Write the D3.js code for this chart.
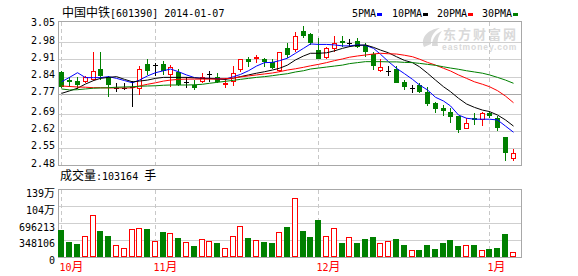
<!DOCTYPE html>
<html><head><meta charset="utf-8">
<script src="https://cdn.jsdelivr.net/npm/d3@7/dist/d3.min.js"></script>
<style>body{margin:0;background:#fff}svg{display:block}</style>
</head><body><svg id="c" width="578" height="276"></svg>
<script>
// ---------------- DATA ----------------
const stockName = "中国中铁";
const stockCode = "601390";
const titleDate = "2014-01-07";

const dates = [
 "2013-10-16","2013-10-17","2013-10-18","2013-10-21","2013-10-22","2013-10-23","2013-10-24","2013-10-25","2013-10-28","2013-10-29","2013-10-30","2013-10-31",
 "2013-11-01","2013-11-04","2013-11-05","2013-11-06","2013-11-07","2013-11-08","2013-11-11","2013-11-12","2013-11-13","2013-11-14","2013-11-15","2013-11-18","2013-11-19","2013-11-20","2013-11-21","2013-11-22","2013-11-25","2013-11-26","2013-11-27","2013-11-28","2013-11-29",
 "2013-12-02","2013-12-03","2013-12-04","2013-12-05","2013-12-06","2013-12-09","2013-12-10","2013-12-11","2013-12-12","2013-12-13","2013-12-16","2013-12-17","2013-12-18","2013-12-19","2013-12-20","2013-12-23","2013-12-24","2013-12-25","2013-12-26","2013-12-27","2013-12-30","2013-12-31",
 "2014-01-02","2014-01-03","2014-01-06","2014-01-07"];

const open  = [2.860,2.827,2.824,2.819,2.827,2.873,2.839,2.797,2.797,2.798,2.790,2.893,2.888,2.893,2.848,2.862,2.820,2.808,2.819,2.853,2.842,2.812,2.821,2.869,2.912,2.914,2.912,2.903,2.866,2.957,2.949,3.028,3.014,2.950,2.917,2.953,2.988,2.980,2.987,2.971,2.933,2.866,2.866,2.872,2.819,2.795,2.808,2.781,2.734,2.713,2.700,2.682,2.628,2.673,2.666,2.693,2.675,2.598,2.506];
const close = [2.800,2.819,2.808,2.842,2.864,2.846,2.810,2.797,2.797,2.798,2.872,2.866,2.888,2.866,2.882,2.808,2.820,2.797,2.842,2.853,2.819,2.817,2.856,2.912,2.903,2.920,2.903,2.876,2.941,2.930,3.007,3.009,2.980,2.914,2.957,2.978,2.980,2.980,2.961,2.943,2.885,2.882,2.866,2.815,2.799,2.795,2.781,2.731,2.710,2.704,2.679,2.625,2.652,2.666,2.693,2.682,2.632,2.533,2.530];
const high  = [2.866,2.839,2.839,2.845,2.944,2.944,2.845,2.815,2.817,2.824,2.885,2.913,2.896,2.906,2.888,2.872,2.839,2.828,2.856,2.865,2.856,2.835,2.885,2.914,2.923,2.930,2.917,2.914,2.941,2.980,3.025,3.048,3.018,2.998,2.964,3.007,3.007,2.995,2.998,2.978,2.943,2.912,2.885,2.885,2.828,2.808,2.815,2.801,2.740,2.727,2.713,2.682,2.673,2.693,2.700,2.702,2.682,2.598,2.548];
const low   = [2.795,2.798,2.790,2.817,2.825,2.830,2.760,2.780,2.788,2.720,2.768,2.847,2.845,2.849,2.800,2.805,2.797,2.788,2.815,2.821,2.815,2.797,2.805,2.862,2.882,2.896,2.882,2.872,2.860,2.917,2.943,2.998,2.970,2.912,2.912,2.941,2.961,2.964,2.957,2.923,2.869,2.860,2.846,2.815,2.788,2.777,2.777,2.723,2.693,2.682,2.652,2.614,2.628,2.645,2.641,2.673,2.622,2.500,2.500];
const volume = [561000,318000,277000,436000,873000,540000,436000,249000,187000,575000,596000,582000,332000,520000,492000,395000,312000,229000,367000,326000,291000,181000,430000,638000,388000,360000,312000,291000,513000,623000,1220000,540000,416000,769000,430000,596000,291000,409000,291000,367000,416000,291000,332000,374000,249000,145000,145000,249000,166000,291000,353000,229000,249000,249000,145000,166000,187000,478000,103164];

const ma5  = [2.821,2.839,2.858,2.838,2.838,2.838,2.842,2.835,2.826,2.817,2.828,2.845,2.858,2.866,2.873,2.862,2.849,2.838,2.835,2.835,2.834,2.832,2.842,2.851,2.866,2.885,2.899,2.900,2.907,2.917,2.937,2.957,2.975,2.973,2.973,2.971,2.967,2.967,2.971,2.969,2.957,2.933,2.903,2.876,2.854,2.831,2.808,2.788,2.758,2.743,2.723,2.686,2.673,2.669,2.669,2.669,2.666,2.641,2.616];
const ma10 = [2.774,2.784,2.795,2.812,2.826,2.835,2.839,2.842,2.831,2.821,2.824,2.828,2.835,2.839,2.839,2.839,2.839,2.837,2.835,2.835,2.832,2.831,2.836,2.842,2.849,2.856,2.862,2.869,2.876,2.889,2.910,2.926,2.937,2.937,2.939,2.947,2.957,2.964,2.969,2.971,2.961,2.950,2.939,2.923,2.908,2.899,2.882,2.856,2.828,2.801,2.781,2.754,2.731,2.717,2.706,2.700,2.686,2.666,2.641];
const ma20 = [2.804,2.802,2.800,2.799,2.797,2.797,2.796,2.796,2.796,2.796,2.804,2.811,2.817,2.824,2.828,2.831,2.832,2.832,2.832,2.832,2.832,2.834,2.836,2.841,2.845,2.849,2.853,2.857,2.862,2.869,2.874,2.880,2.886,2.892,2.899,2.907,2.914,2.921,2.926,2.930,2.934,2.937,2.935,2.934,2.929,2.923,2.913,2.900,2.889,2.876,2.865,2.849,2.835,2.821,2.811,2.801,2.785,2.763,2.736];
const ma30 = [2.792,2.788,2.789,2.792,2.795,2.796,2.797,2.799,2.800,2.801,2.803,2.804,2.805,2.807,2.808,2.808,2.808,2.809,2.811,2.815,2.819,2.823,2.827,2.831,2.835,2.839,2.842,2.846,2.850,2.854,2.861,2.866,2.873,2.877,2.881,2.885,2.889,2.895,2.899,2.903,2.903,2.903,2.902,2.902,2.900,2.899,2.896,2.892,2.888,2.882,2.877,2.872,2.866,2.861,2.856,2.849,2.839,2.828,2.815];

const maNames = ["5PMA","10PMA","20PMA","30PMA"];
const priceTicks = [3.05,2.98,2.91,2.84,2.77,2.69,2.62,2.55,2.48];
const priceTickLabels = ["3.05","2.98","2.91","2.84","2.77","2.69","2.62","2.55","2.48"];
const volTicks = [1392426,1044319,696213,348106,0];
const volTickLabels = ["139万","104万","696213","348106","0"];
const monthLabels = ["10月","11月","12月","1月"];
const volumeTitle = "成交量";
const volumeUnit = "手";

// ---------------- DRAW ----------------
const RED="#ff0000", GREEN="#008000", BLUE="#0000ff", BLACK="#000000";
const maColors=[BLUE,BLACK,RED,GREEN];
const MONO="'DejaVu Sans Mono', monospace";
const CJK="'Noto Sans CJK SC', sans-serif";
const svg=d3.select("#c");
svg.append("rect").attr("width",578).attr("height",276).attr("fill","#fff");

const x=d3.scaleBand().domain(dates).range([57.6,516.6]);
const cxf=d=>Math.round(x(d)+x.bandwidth()/2);
const y=d3.scaleLinear().domain([2.48,2.98]).range([165.7,42.7]);
const yv=d3.scaleLinear().domain([0,volTicks[0]]).range([257,190]);

function mixedText(g,str,px,py,anchor,color,cjkSize){
  const t=g.append("text").attr("x",px).attr("y",py).attr("text-anchor",anchor||"start").attr("fill",color||"#000");
  const runs=str.match(/[\u3000-\u9fff\uff00-\uffef]+|[^\u3000-\u9fff\uff00-\uffef]+/g)||[];
  runs.forEach(r=>{
    const cjk=/[\u3000-\u9fff\uff00-\uffef]/.test(r);
    t.append("tspan").attr("font-family",cjk?CJK:MONO).attr("font-size",cjk?(cjkSize||12):10)
      .attr("xml:space","preserve").text(r);
  });
  return t;
}

// watermark
const wm=svg.append("g").attr("fill","#d9d9d9");
wm.append("path").attr("d","M424,47 C420,38 428,29 440,28 C433,32 430,38 431,44 Z M432,46 C432,39 436,33 442,31 C438,36 437,41 438,46 Z");
wm.append("text").attr("x",443).attr("y",39).attr("font-family",CJK).attr("font-weight","bold").attr("font-size",13).attr("letter-spacing","2").text("东方财富网");
wm.append("text").attr("x",442).attr("y",50).attr("font-family","'Liberation Sans', sans-serif").attr("font-weight","bold").attr("font-size",8.5).attr("letter-spacing","0.9").text("eastmoney.com");

// grid: price
const grid=svg.append("g").attr("shape-rendering","crispEdges");
priceTicks.forEach((v,i)=>{
  if(i===0||i===priceTicks.length-1) return;
  const yy=Math.floor(y(v))+0.5;
  grid.append("line").attr("x1",58.5).attr("x2",521.5).attr("y1",yy).attr("y2",yy)
    .attr("stroke", i===Math.floor(priceTicks.length/2)?"#a8a8a8":"#cfcfcf");
});
// grid: volume
volTicks.forEach((v,i)=>{
  if(i===0||i===volTicks.length-1) return;
  const yy=Math.floor(yv(v))+0.5;
  grid.append("line").attr("x1",58.5).attr("x2",521.5).attr("y1",yy).attr("y2",yy).attr("stroke","#cfcfcf");
});
// month dashed lines + labels
const monthStarts=dates.map((d,i)=>i).filter(i=>i===0||dates[i].slice(5,7)!==dates[i-1].slice(5,7));
monthStarts.forEach((idx,k)=>{
  const xx=cxf(dates[idx])+0.5;
  grid.append("line").attr("x1",xx).attr("x2",xx).attr("y1",22).attr("y2",165).attr("stroke","#c8c8c8").attr("stroke-dasharray","4,3");
  grid.append("line").attr("x1",xx).attr("x2",xx).attr("y1",190).attr("y2",257).attr("stroke","#c8c8c8").attr("stroke-dasharray","4,3");
  mixedText(svg,monthLabels[k],xx-2,271,"start",RED,12);
});

// borders
const bd=svg.append("g").attr("fill","none").attr("stroke","#a8a8a8").attr("shape-rendering","crispEdges");
bd.append("rect").attr("x",58.5).attr("y",21.5).attr("width",463).attr("height",144);
bd.append("rect").attr("x",58.5).attr("y",189.5).attr("width",463).attr("height",68);

// axis labels
priceTicks.forEach((v,i)=>{
  svg.append("text").attr("x",55).attr("y",y(v)+0.8).attr("text-anchor","end")
    .attr("font-family",MONO).attr("font-size",10).attr("fill","#000").text(priceTickLabels[i]);
});
volTicks.forEach((v,i)=>{
  mixedText(svg,volTickLabels[i],55,yv(v)+7,"end","#000",11);
});

// title & legend
mixedText(svg,`${stockName}[${stockCode}] ${titleDate}`,62,17,"start","#000",12);
const legX=[352,392,437,482];
maNames.forEach((n,i)=>{
  svg.append("text").attr("x",legX[i]).attr("y",17).attr("font-family",MONO).attr("font-size",10).text(n);
  svg.append("rect").attr("x",legX[i]+n.length*6+1).attr("y",13).attr("width",5).attr("height",3).attr("fill",maColors[i]);
});

// volume title
mixedText(svg,`${volumeTitle}:${volume[volume.length-1]} ${volumeUnit}`,60,180,"start","#000",12);

// candles
const cg=svg.append("g").attr("shape-rendering","crispEdges");
dates.forEach((d,i)=>{
  const c=cxf(d), o=open[i], cl=close[i];
  const yh=Math.round(y(high[i])), yl=Math.round(y(low[i]));
  if(cl===o){
    const yy=Math.round(y(o))+0.5;
    cg.append("line").attr("x1",c+0.5).attr("x2",c+0.5).attr("y1",yh).attr("y2",yl).attr("stroke",BLACK);
    cg.append("line").attr("x1",c-2).attr("x2",c+3).attr("y1",yy).attr("y2",yy).attr("stroke",BLACK);
    return;
  }
  const top=Math.round(y(Math.max(o,cl))), bot=Math.round(y(Math.min(o,cl)));
  if(cl>o){
    if(yh<top) cg.append("line").attr("x1",c+0.5).attr("x2",c+0.5).attr("y1",yh).attr("y2",top).attr("stroke",RED);
    if(yl>bot) cg.append("line").attr("x1",c+0.5).attr("x2",c+0.5).attr("y1",bot).attr("y2",yl).attr("stroke",RED);
    cg.append("rect").attr("x",c-1.5).attr("y",top+0.5).attr("width",4).attr("height",Math.max(1,bot-top-1))
      .attr("fill","#fff").attr("stroke",RED);
  } else {
    cg.append("line").attr("x1",c+0.5).attr("x2",c+0.5).attr("y1",yh).attr("y2",yl).attr("stroke",GREEN);
    cg.append("rect").attr("x",c-2).attr("y",top).attr("width",5).attr("height",Math.max(1,bot-top)).attr("fill",GREEN);
  }
});

// MA lines
[ma5,ma10,ma20,ma30].forEach((arr,k)=>{
  const line=d3.line().x((v,i)=>cxf(dates[i])+0.5).y(v=>y(v));
  svg.append("path").attr("d",line(arr)).attr("fill","none").attr("stroke",maColors[k]).attr("stroke-width",1);
});

// volume bars
const vg=svg.append("g").attr("shape-rendering","crispEdges");
dates.forEach((d,i)=>{
  const c=cxf(d), top=Math.round(yv(volume[i])), base=257;
  if(close[i]>=open[i]){
    vg.append("rect").attr("x",c-2.5).attr("y",top+0.5).attr("width",5).attr("height",Math.max(1,base-top-1))
      .attr("fill","#fff").attr("stroke",RED);
  } else {
    vg.append("rect").attr("x",c-3).attr("y",top).attr("width",6).attr("height",base-top).attr("fill",GREEN);
  }
});
</script></body></html>
